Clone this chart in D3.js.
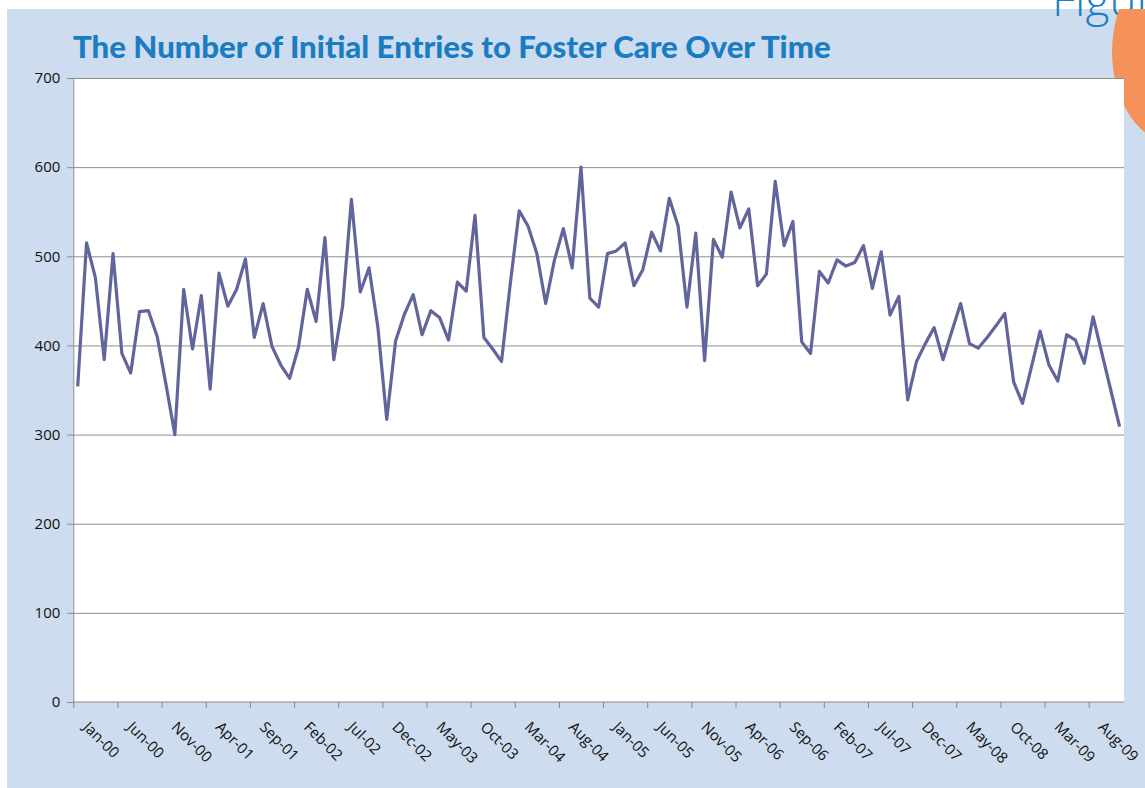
<!DOCTYPE html>
<html>
<head>
<meta charset="utf-8">
<script src="https://cdn.jsdelivr.net/npm/d3@7"></script>
<style>
  html, body { margin: 0; padding: 0; background: #fff; }
  svg { display: block; }
  .tick text { font-family: "Open Sans", sans-serif; font-size: 15px; fill: #111; }
</style>
</head>
<body>
<svg id="chart"></svg>
<script>
const W = 1145, H = 788;

// monthly data, Jan-00 .. Nov-09
const years = ["00", "01", "02", "03", "04", "05", "06", "07", "08", "09"];
const monthNames = ["Jan", "Feb", "Mar", "Apr", "May", "Jun", "Jul", "Aug", "Sep", "Oct", "Nov", "Dec"];
const entries = [
  354, 515, 476, 384, 503, 391, 369, 438, 439, 410, 356, 300,
  463, 396, 456, 351, 481, 444, 463, 497, 409, 447, 399, 378,
  363, 398, 463, 427, 521, 384, 444, 564, 460, 487, 420, 317,
  405, 435, 457, 412, 439, 431, 406, 471, 461, 546, 409, 396,
  382, 470, 551, 534, 503, 447, 496, 531, 487, 600, 453, 443,
  503, 506, 515, 467, 485, 527, 506, 565, 534, 443, 526, 383,
  519, 499, 572, 532, 553, 467, 480, 584, 512, 539, 404, 391,
  483, 470, 496, 489, 493, 512, 464, 505, 434, 455, 339, 382,
  402, 420, 384, 416, 447, 402, 397, 409, 422, 436, 359, 335,
  375, 416, 378, 360, 412, 406, 380, 432, 391, 350, 309
];
// every 5th month gets a label
const tickEvery = 5;
const yTicks = [0, 100, 200, 300, 400, 500, 600, 700];
const title = "The Number of Initial Entries to Foster Care Over Time";

const months = [];
years.forEach(y => monthNames.forEach(m => months.push(`${m}-${y}`)));
const categories = months.slice(0, entries.length);

const plot = { left: 73.3, right: 1124, top: 78, bottom: 702 };

const svg = d3.select("#chart").attr("width", W).attr("height", H);

// page background
svg.append("rect").attr("x", 7).attr("y", 9).attr("width", W - 7).attr("height", H - 9)
  .attr("fill", "#cddcee");

// page heading, mostly off the top edge (as in the source page)
svg.append("text")
  .attr("x", 1052).attr("y", 16)
  .attr("font-family", "Open Sans, sans-serif")
  .attr("font-weight", 300)
  .attr("font-size", 46)
  .attr("fill", "#1a80c4")
  .text("Figure 1");

// orange tab top right
svg.append("clipPath").attr("id", "below-strip")
  .append("rect").attr("x", 0).attr("y", 9).attr("width", W).attr("height", H);
svg.append("ellipse")
  .attr("cx", 1176).attr("cy", 52).attr("rx", 64).attr("ry", 92)
  .attr("fill", "#f4925a")
  .attr("clip-path", "url(#below-strip)");

// plot area
svg.append("rect")
  .attr("x", plot.left).attr("y", plot.top)
  .attr("width", plot.right - plot.left).attr("height", plot.bottom - plot.top)
  .attr("fill", "#fff");

const x = d3.scaleLinear().domain([0, categories.length]).range([plot.left, plot.right]);
const bw = x(1) - x(0);
const y = d3.scaleLinear().domain([0, 700]).range([plot.bottom, plot.top]);

// gridlines
svg.append("g")
  .attr("transform", `translate(${plot.left},0)`)
  .call(d3.axisLeft(y).tickValues(yTicks.slice(1)).tickSize(-(plot.right - plot.left)).tickFormat(""))
  .call(g => g.select(".domain").remove())
  .call(g => g.selectAll("line").attr("stroke", "#8f8f8f").attr("stroke-width", 1));

// y axis
svg.append("g")
  .attr("transform", `translate(${plot.left},0)`)
  .call(d3.axisLeft(y).tickValues(yTicks).tickSize(6).tickPadding(7))
  .call(g => g.select(".domain").attr("stroke", "#8a8a8a"))
  .call(g => g.selectAll("line").attr("stroke", "#8a8a8a"));

// x axis: ticks at category boundaries, labels at category centres rotated
const xTickIdx = d3.range(0, categories.length, tickEvery);
svg.append("g")
  .attr("transform", `translate(0,${plot.bottom})`)
  .call(d3.axisBottom(x).tickValues(xTickIdx).tickSize(6).tickFormat(i => categories[i]))
  .call(g => g.select(".domain").attr("stroke", "#8a8a8a").attr("d", `M${plot.left},0H${plot.right}`))
  .call(g => g.selectAll("line").attr("stroke", "#8a8a8a"))
  .call(g => g.selectAll("text")
    .attr("x", 0).attr("y", 0).attr("dy", 0)
    .attr("text-anchor", "start")
    .attr("transform", `translate(${bw / 2 + 4},26) rotate(45)`));

// series line
const line = d3.line()
  .x((d, i) => x(i) + bw / 2)
  .y(d => y(d));

svg.append("path")
  .datum(entries)
  .attr("d", line)
  .attr("fill", "none")
  .attr("stroke", "#62659c")
  .attr("stroke-width", 3.2)
  .attr("stroke-linejoin", "round");

// title, fitted to the width it takes in the original
const t = svg.append("text")
  .attr("x", 73).attr("y", 58)
  .attr("font-family", "Lato, sans-serif")
  .attr("font-weight", 900)
  .attr("font-size", 28)
  .attr("fill", "#1a7dc1")
  .text(title);
const tw = t.node().getComputedTextLength();
t.attr("font-size", 28 * 758 / tw);
</script>
</body>
</html>
